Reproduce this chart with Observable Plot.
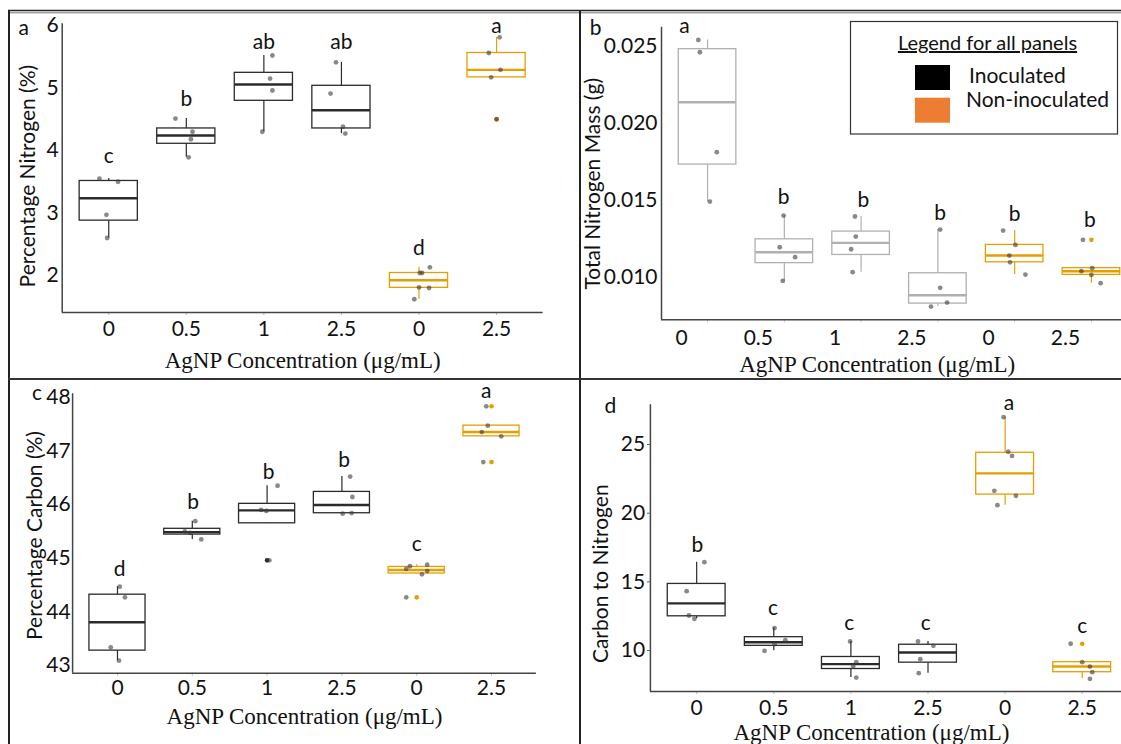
<!DOCTYPE html>
<html>
<head>
<meta charset="utf-8">
<script src="https://cdn.jsdelivr.net/npm/d3@7"></script>
<script src="https://cdn.jsdelivr.net/npm/@observablehq/plot@0.6"></script>
<style>
  html, body { margin: 0; padding: 0; background: #fff; }
  #figure { position: relative; width: 1121px; height: 744px; overflow: hidden; background: #fff; }
  #figure svg { position: absolute; }
</style>
</head>
<body>
<div id="figure"></div>
<script>
// Treatment groups along the x axis
const concentrations = ["0", "0.5", "1", "2.5", "0", "2.5"];
const treatments = ["Inoculated", "Inoculated", "Inoculated", "Inoculated", "Non-inoculated", "Non-inoculated"];
const legendLabels = ["Inoculated", "Non-inoculated"];
const legendColors = ["#000000", "#ED7D31"];
const xTitle = "AgNP Concentration (μg/mL)";

// (a) Percentage nitrogen: replicate values per group and their horizontal jitter
const nitrogenPct = [
  [3.55, 3.50, 2.97, 2.60],
  [4.51, 4.30, 4.18, 3.89],
  [5.52, 5.15, 4.96, 4.30],
  [5.41, 4.91, 4.38, 4.27],
  [2.13, 2.04, 2.04, 1.81, 1.80, 1.62],
  [5.81, 5.56, 5.29, 5.17, 4.50]
];
const nitrogenPctJitter = [
  [-0.12, 0.12, -0.03, -0.02],
  [-0.14, 0.08, 0.06, 0.03],
  [0.11, 0.08, 0.11, -0.02],
  [-0.07, -0.14, 0.02, 0.05],
  [0.14, 0.01, 0.04, 0.00, 0.13, -0.06],
  [0.04, -0.10, 0.05, -0.07, 0.00]
];
const nitrogenPctLetters = ["c", "b", "ab", "ab", "d", "a"];
const nitrogenPctLetterY = [3.91, 4.82, 5.73, 5.73, 2.44, 5.99];
const nitrogenPctLetterX = [0, 1, 2, 3, 4, 5];
const nitrogenPctTicks = [2, 3, 4, 5, 6];

// (b) Total nitrogen mass (g)
const nitrogenMass = [
  [0.02543, 0.02463, 0.01813, 0.01492],
  [0.01401, 0.01195, 0.01130, 0.00976],
  [0.01395, 0.01264, 0.01182, 0.01033],
  [0.01310, 0.00931, 0.00835, 0.00809],
  [0.01303, 0.01210, 0.01141, 0.01097, 0.01017],
  [0.01243, 0.01039, 0.01059, 0.01015, 0.00961]
];
const nitrogenMassJitter = [
  [-0.12, -0.10, 0.12, 0.03],
  [-0.01, -0.06, 0.14, -0.02],
  [-0.08, -0.07, -0.13, -0.11],
  [0.03, 0.03, 0.12, -0.09],
  [-0.15, 0.01, -0.07, -0.06, 0.14],
  [-0.11, -0.13, 0.01, 0.00, 0.12]
];
const nitrogenMassLetters = ["a", "b", "b", "b", "b", "b"];
const nitrogenMassLetterY = [0.02630, 0.01520, 0.01499, 0.01418, 0.01412, 0.01369];
const nitrogenMassLetterX = [-0.3, 0.99, 2.03, 3.03, 4.0, 4.98];
const nitrogenMassTicks = [0.010, 0.015, 0.020, 0.025];

// (c) Percentage carbon
const carbonPct = [
  [44.47, 44.27, 43.34, 43.09],
  [45.69, 45.50, 45.47, 45.35],
  [46.35, 45.90, 45.88, 44.96],
  [46.52, 46.14, 45.84, 45.83],
  [44.88, 44.85, 44.80, 44.76, 44.70, 44.27],
  [47.83, 47.47, 47.35, 47.27, 46.79]
];
const carbonPctJitter = [
  [0.03, 0.10, -0.09, 0.02],
  [0.04, -0.10, -0.03, 0.12],
  [0.14, -0.08, -0.01, 0.03],
  [0.11, 0.14, 0.13, 0.01],
  [0.14, -0.09, -0.14, 0.14, 0.07, -0.14],
  [-0.07, -0.05, -0.13, 0.13, -0.11]
];
const carbonPctLetters = ["d", "b", "b", "b", "c", "a"];
const carbonPctLetterY = [44.79, 46.04, 46.61, 46.83, 45.26, 48.11];
const carbonPctLetterX = [0.03, 1.01, 2.02, 3.03, 4.0, 4.93];
const carbonPctTicks = [43, 44, 45, 46, 47, 48];

// (d) Carbon to nitrogen ratio
const carbonNitrogen = [
  [16.43, 14.32, 12.55, 12.31],
  [11.63, 10.75, 10.46, 9.98],
  [10.66, 9.15, 8.86, 8.03],
  [10.66, 10.34, 9.37, 8.35],
  [26.99, 24.47, 24.17, 21.63, 21.26, 20.58],
  [10.49, 9.15, 8.83, 8.42, 7.94]
];
const carbonNitrogenJitter = [
  [0.10, -0.13, -0.10, -0.03],
  [0.01, 0.15, 0.01, -0.12],
  [-0.01, 0.07, 0.03, 0.07],
  [-0.13, 0.07, -0.10, -0.12],
  [-0.02, 0.04, 0.09, -0.14, 0.14, -0.10],
  [-0.15, 0.00, 0.10, 0.13, 0.10]
];
const carbonNitrogenLetters = ["b", "c", "c", "c", "a", "c"];
const carbonNitrogenLetterY = [17.65, 13.08, 11.99, 11.99, 28.01, 11.77];
const carbonNitrogenLetterX = [0.01, 0.99, 1.98, 2.97, 4.05, 5.0];
const carbonNitrogenTicks = [10, 15, 20, 25];

const nonInocColor = "#E69F00";
const tickFont = 21;
const figure = document.getElementById("figure");

// Tukey box statistics (type-7 quantiles, 1.5 × IQR whiskers)
function boxStats(groups) {
  return groups.map((vals, i) => {
    const s = vals.slice().sort(d3.ascending);
    const q1 = d3.quantile(s, 0.25), med = d3.quantile(s, 0.5), q3 = d3.quantile(s, 0.75);
    const iqr = q3 - q1;
    const lo = d3.min(s.filter(v => v >= q1 - 1.5 * iqr));
    const hi = d3.max(s.filter(v => v <= q3 + 1.5 * iqr));
    return {i, q1, med, q3, lo, hi, outliers: s.filter(v => v < lo || v > hi), treatment: treatments[i]};
  });
}

function panel(cfg) {
  const stats = boxStats(cfg.values);
  const points = cfg.values.flatMap((vals, i) => vals.map((v, j) => ({x: i + cfg.jitter[i][j], y: v})));
  const outliers = stats.flatMap(s => s.outliers.map(v => ({i: s.i, v, treatment: s.treatment})));
  const letters = cfg.letters.map((t, i) => ({x: cfg.letterX[i], t, y: cfg.letterY[i]}));
  const half = 0.375;

  const xAxes = cfg.labelShift
    ? [
        Plot.axisX({ticks: d3.range(6), tickFormat: () => "", tickSize: 3, stroke: "#c8c8c8", label: null}),
        Plot.axisX({ticks: d3.range(6), tickFormat: i => concentrations[i], tickSize: 0, tickPadding: cfg.xPad + 3,
                    dx: cfg.labelShift, fontSize: tickFont, label: null})
      ]
    : [
        Plot.axisX({ticks: d3.range(6), tickFormat: i => concentrations[i], tickSize: 3, tickPadding: cfg.xPad,
                    stroke: "#bbb", fontSize: tickFont, label: null})
      ];

  const svg = Plot.plot({
    width: cfg.width,
    height: cfg.height,
    marginTop: cfg.margin[0],
    marginRight: cfg.margin[1],
    marginBottom: cfg.margin[2],
    marginLeft: cfg.margin[3],
    x: {domain: [-0.6, 5.6]},
    y: {domain: cfg.yDomain},
    color: {domain: legendLabels, range: [cfg.inocColor, nonInocColor]},
    style: {fontFamily: "Lato, sans-serif", background: "transparent", overflow: "visible", maxWidth: "none", color: "#111"},
    marks: [
      Plot.axisY({ticks: cfg.yTicks, tickFormat: cfg.yFormat, tickSize: cfg.yTickSize, tickPadding: cfg.yPad,
                  stroke: "#666", fontSize: tickFont, label: null}),
      ...xAxes,
      Plot.ruleY([cfg.yDomain[0]], {stroke: "#444", strokeWidth: 1.5}),
      Plot.ruleX([-0.6], {stroke: "#444", strokeWidth: 1.5}),
      // whiskers
      Plot.ruleX(stats, {x: "i", y1: "q3", y2: "hi", stroke: "treatment", strokeWidth: 1.2}),
      Plot.ruleX(stats, {x: "i", y1: "lo", y2: "q1", stroke: "treatment", strokeWidth: 1.2}),
      // boxes and medians
      Plot.rect(stats, {x1: d => d.i - half, x2: d => d.i + half, y1: "q1", y2: "q3",
                        fill: "white", stroke: "treatment", strokeWidth: 1.3}),
      Plot.ruleY(stats, {y: "med", x1: d => d.i - half, x2: d => d.i + half, stroke: "treatment", strokeWidth: 2.4}),
      // outliers, then jittered replicates
      Plot.dot(outliers, {x: "i", y: "v", fill: "treatment", r: 2.3}),
      Plot.dot(points, {x: "x", y: "y", fill: "#3a3a3a", fillOpacity: 0.6, r: 2.4}),
      // significance letters
      Plot.text(letters, {x: "x", y: "y", text: "t", fontSize: 21, lineAnchor: "middle", fill: "#111"}),
      // axis titles and panel letter
      Plot.text([cfg.yLabel], {text: d => d, frameAnchor: "left", rotate: -90, textAnchor: "middle", lineAnchor: "middle",
                               dx: cfg.yLabelPos[0], dy: cfg.yLabelPos[1], fontSize: 21, fill: "#111"}),
      Plot.text([xTitle], {text: d => d, frameAnchor: "bottom", textAnchor: "middle", lineAnchor: "middle",
                           dx: cfg.xTitlePos[0], dy: cfg.xTitlePos[1], fontSize: 23, fill: "#111",
                           fontFamily: "Liberation Serif, 'Times New Roman', serif"}),
      Plot.text([cfg.id], {text: d => d, frameAnchor: "top-left", textAnchor: "middle", lineAnchor: "middle",
                           dx: cfg.idPos[0], dy: cfg.idPos[1], fontSize: 21, fill: "#111"})
    ]
  });
  svg.style.left = cfg.left + "px";
  svg.style.top = cfg.top + "px";
  figure.appendChild(svg);
}

panel({
  id: "a", values: nitrogenPct, jitter: nitrogenPctJitter,
  letters: nitrogenPctLetters, letterY: nitrogenPctLetterY, letterX: nitrogenPctLetterX,
  yTicks: nitrogenPctTicks, yFormat: d3.format("d"), yTickSize: 0, yPad: 3.5,
  yLabel: "Percentage Nitrogen (%)", inocColor: "#2b2b2b",
  left: 0, top: 0, width: 580, height: 379, margin: [23.3, 37.4, 67, 61.7], yDomain: [1.408, 6.027],
  xPad: 5.5, yLabelPos: [-34, 8], xTitlePos: [0, 48], idPos: [-38.4, 4]
});

panel({
  id: "b", values: nitrogenMass, jitter: nitrogenMassJitter,
  letters: nitrogenMassLetters, letterY: nitrogenMassLetterY, letterX: nitrogenMassLetterX,
  yTicks: nitrogenMassTicks, yFormat: d3.format(".3f"), yTickSize: 0, yPad: 4,
  yLabel: "Total Nitrogen Mass (g)", inocColor: "#b0b0b0",
  left: 580, top: 0, width: 560, height: 379, margin: [26.7, 3, 59.7, 81], yDomain: [0.00723, 0.02626],
  xPad: 7, labelShift: -26, yLabelPos: [-68, 10.3], xTitlePos: [-22.3, 45], idPos: [-66, 0.6]
});

panel({
  id: "c", values: carbonPct, jitter: carbonPctJitter,
  letters: carbonPctLetters, letterY: carbonPctLetterY, letterX: carbonPctLetterX,
  yTicks: carbonPctTicks, yFormat: d3.format("d"), yTickSize: 0, yPad: 2,
  yLabel: "Percentage Carbon (%)", inocColor: "#2b2b2b",
  left: 0, top: 379, width: 580, height: 365, margin: [14.3, 44.1, 71.3, 72.1], yDomain: [42.857, 48.063],
  xPad: 3.7, yLabelPos: [-37, 2], xTitlePos: [0, 43.3], idPos: [-35.5, -1]
});

panel({
  id: "d", values: carbonNitrogen, jitter: carbonNitrogenJitter,
  letters: carbonNitrogenLetters, letterY: carbonNitrogenLetterY, letterX: carbonNitrogenLetterX,
  yTicks: carbonNitrogenTicks, yFormat: d3.format("d"), yTickSize: 3, yPad: 2.3,
  yLabel: "Carbon to Nitrogen", inocColor: "#2b2b2b",
  left: 580, top: 379, width: 560, height: 365, margin: [25.3, 12, 53, 69.9], yDomain: [7.015, 27.89],
  xPad: 5.5, yLabelPos: [-48.8, 25.6], xTitlePos: [-18, 41.5], idPos: [-40, 1.7]
});

// Panel frame lines and the shared legend
const overlay = d3.select(figure).append("svg")
  .attr("width", 1121).attr("height", 744)
  .style("left", "0px").style("top", "0px")
  .style("pointer-events", "none");

const lines = [
  {x1: 8, y1: 10.5, x2: 1121, y2: 10.5, w: 1.4, c: "#222"},
  {x1: 10, y1: 12.8, x2: 1121, y2: 12.8, w: 1, c: "#777"},
  {x1: 9, y1: 10, x2: 9, y2: 744, w: 2, c: "#222"},
  {x1: 580, y1: 10, x2: 580, y2: 744, w: 2, c: "#222"},
  {x1: 8, y1: 379, x2: 1121, y2: 379, w: 2, c: "#333"}
];
overlay.selectAll("line.frame").data(lines).join("line")
  .attr("x1", d => d.x1).attr("y1", d => d.y1).attr("x2", d => d.x2).attr("y2", d => d.y2)
  .attr("stroke", d => d.c).attr("stroke-width", d => d.w);

const legend = overlay.append("g").style("font-family", "Lato, sans-serif").attr("fill", "#111");
legend.append("rect")
  .attr("x", 850.5).attr("y", 21.5).attr("width", 267).attr("height", 112.5)
  .attr("fill", "white").attr("stroke", "#333").attr("stroke-width", 1.2);
legend.append("text")
  .attr("x", 987.5).attr("y", 50).attr("text-anchor", "middle")
  .style("font-size", "20px").style("text-decoration", "underline")
  .text("Legend for all panels");
legend.selectAll("rect.swatch").data(legendLabels).join("rect")
  .attr("x", 915).attr("y", (d, i) => 65 + i * 32.7).attr("width", 35).attr("height", 25)
  .attr("fill", (d, i) => legendColors[i]);
legend.selectAll("text.item").data(legendLabels).join("text")
  .attr("x", (d, i) => i === 0 ? 969 : 966).attr("y", (d, i) => 82.7 + i * 24.6)
  .style("font-size", "21px")
  .text(d => d);
</script>
</body>
</html>
